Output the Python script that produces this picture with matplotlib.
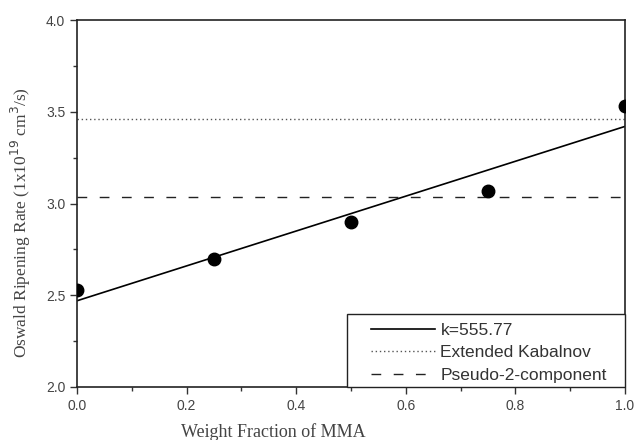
import matplotlib
matplotlib.use("Agg")
import matplotlib.pyplot as plt
from matplotlib.patches import Rectangle
import numpy as np

x_data = [0.0, 0.25, 0.5, 0.75, 1.0]
y_data = [2.53, 2.70, 2.90, 3.07, 3.53]
fit_x = [0.0, 1.0]
fit_y = [2.47, 3.42]
kabalnov = 3.46
pseudo = 3.035
labels = ["k=555.77", "Extended Kabalnov", "Pseudo-2-component"]

fig = plt.figure(figsize=(6.37, 4.40), dpi=100)
ax = fig.add_axes([0.121, 0.1205, 0.860, 0.834])

ax.plot(fit_x, fit_y, color="black", lw=1.2, label=labels[0])
ax.axhline(kabalnov, color="#555555", lw=1.0, ls=(0, (1, 2)), label=labels[1])
ax.axhline(pseudo, color="#222222", lw=1.0, ls=(0, (7, 9)), label=labels[2])
ax.plot(x_data, y_data, "o", color="black", ms=9, zorder=5)

ax.set_xlim(0, 1)
ax.set_ylim(2.0, 4.0)
ax.set_xticks(np.arange(0, 1.01, 0.2))
ax.set_xticks(np.arange(0.1, 1.0, 0.2), minor=True)
ax.set_yticks([2.0, 2.5, 3.0, 3.5, 4.0])
ax.set_yticks([2.25, 2.75, 3.25, 3.75], minor=True)
ax.xaxis.set_major_formatter(matplotlib.ticker.FormatStrFormatter("%.1f"))
ax.yaxis.set_major_formatter(matplotlib.ticker.FormatStrFormatter("%.1f"))

for lab in ax.get_xticklabels() + ax.get_yticklabels():
    lab.set_fontfamily("Liberation Sans")
ax.tick_params(axis="both", which="major", direction="out", length=5, width=1,
               labelsize=10, labelcolor="#444444", color="#333333")
ax.tick_params(axis="both", which="minor", direction="out", length=3, width=1, color="#333333")
ax.tick_params(axis="x", pad=4)

for s in ax.spines.values():
    s.set_linewidth(1.2)
    s.set_color("#222222")

ax.set_xlabel("Weight Fraction of MMA", fontfamily="Liberation Serif", fontsize=13,
              color="#444444")
ax.xaxis.set_label_coords(0.358, -0.098)
ax.set_ylabel("Oswald Ripening Rate (1x10$^{19}$ cm$^{3}$/s)", fontfamily="Liberation Serif",
              fontsize=12.5, color="#444444")
ax.yaxis.set_label_coords(-0.080, 0.447)

# legend frame (Origin-style wide box) and content
ax.add_patch(Rectangle((0.493, 0.0), 0.507, 0.199, transform=ax.transAxes,
                       facecolor="white", edgecolor="#222222", lw=1.0, zorder=6,
                       clip_on=False))
leg = ax.legend(loc="lower right", bbox_to_anchor=(0.967, 0.012), borderaxespad=0,
                frameon=False, prop={"family": "Liberation Sans", "size": 12.5},
                handlelength=3.7, labelspacing=0.42, borderpad=0.0, handletextpad=0.3)
leg.set_zorder(7)
for t in leg.get_texts():
    t.set_color("#333333")

fig.savefig("out.png", dpi=100)
